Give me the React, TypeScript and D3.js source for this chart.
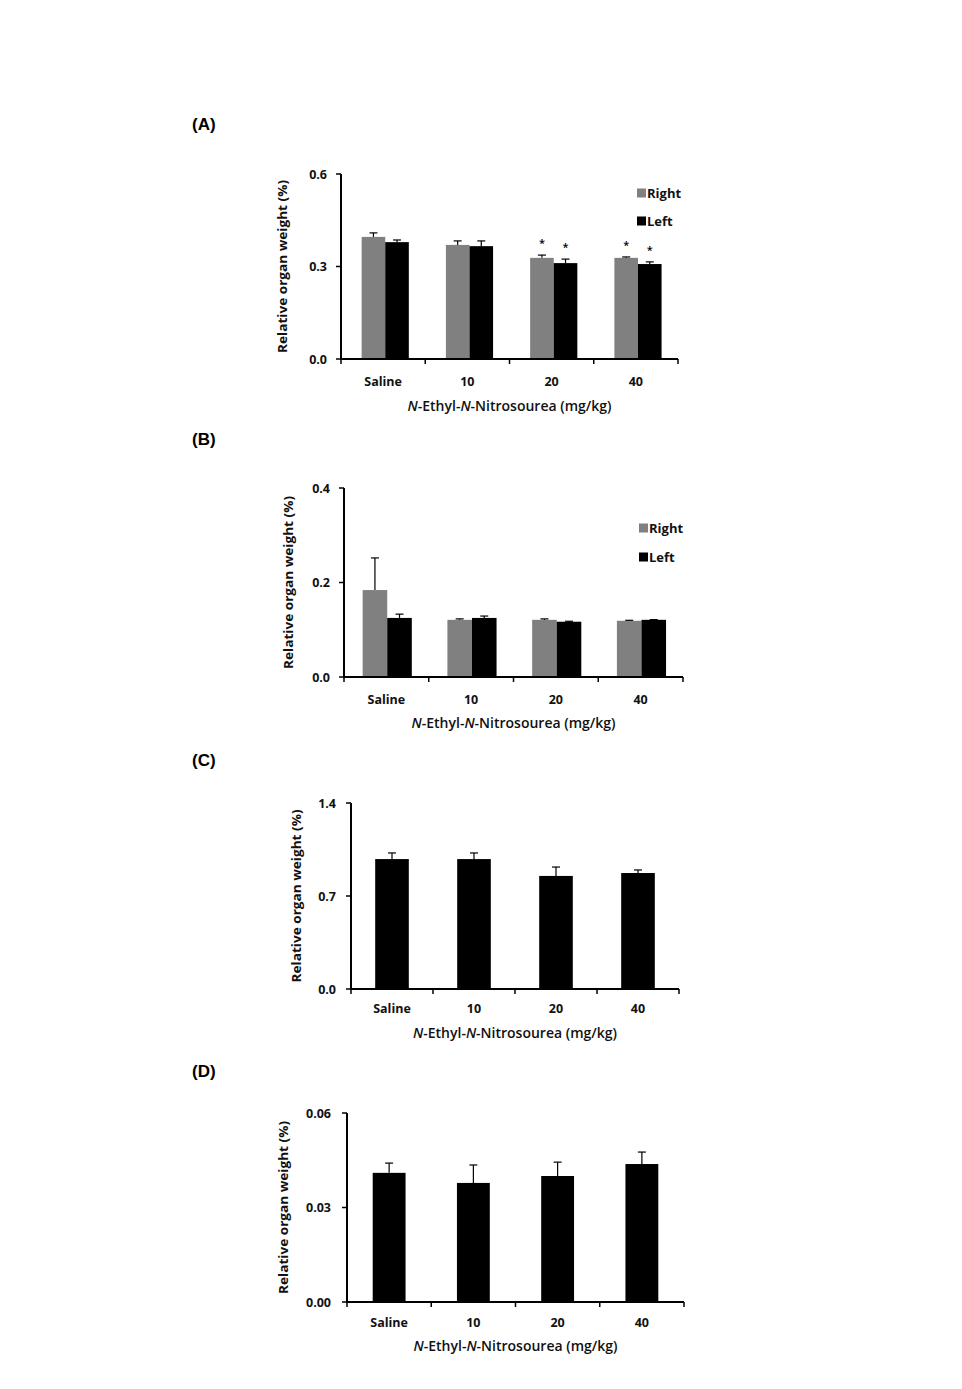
import React from "react";
import * as d3 from "d3";

const categories = ["Saline", "10", "20", "40"];

const aRight = [0.396, 0.37, 0.328, 0.328];
const aRightSD = [0.013, 0.013, 0.009, 0.003];
const aRightSig = [false, false, true, true];
const aLeft = [0.379, 0.366, 0.311, 0.308];
const aLeftSD = [0.007, 0.017, 0.013, 0.007];
const aLeftSig = [false, false, true, true];
const aTicks = [0, 0.3, 0.6];

const bRight = [0.184, 0.121, 0.121, 0.119];
const bRightSD = [0.068, 0.002, 0.002, 0.001];
const bLeft = [0.125, 0.125, 0.117, 0.121];
const bLeftSD = [0.008, 0.004, 0.001, 0.0005];
const bTicks = [0, 0.2, 0.4];

const cValues = [0.978, 0.978, 0.851, 0.873];
const cSD = [0.046, 0.046, 0.067, 0.023];
const cTicks = [0, 0.7, 1.4];

const dValues = [0.041, 0.0378, 0.04, 0.0438];
const dSD = [0.0031, 0.0057, 0.0044, 0.0038];
const dTicks = [0, 0.03, 0.06];

const seriesNames = ["Right", "Left"];
const seriesColors = ["#808080", "#000000"];

const FONT = "'Open Sans', 'Noto Sans', sans-serif";

type Series = { name: string; color: string; values: number[]; sd: number[]; sig?: boolean[] };

type PanelProps = {
  label: string;
  labelY: number;
  x0: number;
  x1: number;
  yTop: number;
  yBot: number;
  ticks: number[];
  decimals: number;
  tickLabelX: number;
  yLabelX: number;
  xLabelY: number;
  xTitleY: number;
  series: Series[];
  legend?: { x: number; y: number[] };
  groupInner: [number, number];
};

function Panel(p: PanelProps) {
  const x = d3.scaleBand<string>().domain(categories).range([p.x0, p.x1]).padding(0);
  const y = d3
    .scaleLinear()
    .domain([0, p.ticks[p.ticks.length - 1]])
    .range([p.yBot, p.yTop]);
  const bw = x.bandwidth();
  const inner = d3
    .scaleBand<string>()
    .domain(p.series.map((s) => s.name))
    .range([bw * p.groupInner[0], bw * p.groupInner[1]])
    .padding(0);
  const fmt = d3.format(`.${p.decimals}f`);
  const yMid = (p.yTop + p.yBot) / 2;
  const boundaries = categories.map((c) => (x(c) as number) + bw);
  return (
    <g>
      <text x={192} y={p.labelY} dominantBaseline="central" fontFamily="'Liberation Sans', Arial, sans-serif" fontWeight={700} fontSize={17} fill="#000">
        {p.label}
      </text>
      {p.series.map((s) =>
        categories.map((c, i) => {
          const bx = (x(c) as number) + (inner(s.name) as number);
          const w = inner.bandwidth();
          const cx = bx + w / 2;
          const top = y(s.values[i]);
          const errTop = y(s.values[i] + s.sd[i]);
          return (
            <g key={s.name + c}>
              <rect x={bx} y={top} width={w} height={p.yBot - top} fill={s.color} />
              <line x1={cx} x2={cx} y1={top} y2={errTop} stroke="#000" strokeWidth={1.2} />
              <line x1={cx - 4} x2={cx + 4} y1={errTop} y2={errTop} stroke="#000" strokeWidth={1.2} />
              {s.sig && s.sig[i] ? (
                <text x={cx} y={errTop - 8} textAnchor="middle" fontFamily={FONT} fontSize={11} fontWeight={600} fill="#000">
                  *
                </text>
              ) : null}
            </g>
          );
        })
      )}
      <line x1={p.x0} x2={p.x0} y1={p.yTop} y2={p.yBot + 1} stroke="#000" strokeWidth={2} />
      {p.ticks.map((t) => (
        <g key={t}>
          <line x1={p.x0 - 5} x2={p.x0} y1={y(t)} y2={y(t)} stroke="#000" strokeWidth={1.5} />
          <text x={p.tickLabelX} y={y(t)} textAnchor="end" dominantBaseline="central" fontFamily={FONT} fontWeight={700} fontSize={12.5} fill="#111">
            {fmt(t)}
          </text>
        </g>
      ))}
      <line x1={p.x0 - 1} x2={p.x1} y1={p.yBot} y2={p.yBot} stroke="#000" strokeWidth={2} />
      <line x1={p.x0} x2={p.x0} y1={p.yBot} y2={p.yBot + 5} stroke="#000" strokeWidth={1.5} />
      {boundaries.map((bx, i) => (
        <line key={i} x1={bx} x2={bx} y1={p.yBot} y2={p.yBot + 5} stroke="#000" strokeWidth={1.5} />
      ))}
      {categories.map((c) => (
        <text key={c} x={(x(c) as number) + bw / 2} y={p.xLabelY} textAnchor="middle" dominantBaseline="central" fontFamily={FONT} fontWeight={700} fontSize={12.5} fill="#111">
          {c}
        </text>
      ))}
      <text x={(p.x0 + p.x1) / 2} y={p.xTitleY} textAnchor="middle" dominantBaseline="central" fontFamily={FONT} fontWeight={600} fontSize={14} fill="#111">
        <tspan fontStyle="italic">N</tspan>
        <tspan>-Ethyl-</tspan>
        <tspan fontStyle="italic">N</tspan>
        <tspan>-Nitrosourea (mg/kg)</tspan>
      </text>
      <text
        transform={`translate(${p.yLabelX},${yMid}) rotate(-90)`}
        textAnchor="middle"
        dominantBaseline="central"
        fontFamily={FONT}
        fontWeight={700}
        fontSize={12}
        textLength={173}
        lengthAdjust="spacingAndGlyphs"
        fill="#111"
      >
        Relative organ weight (%)
      </text>
      {p.legend
        ? p.series.map((s, i) => (
            <g key={"lg" + s.name}>
              <rect x={p.legend!.x} y={p.legend!.y[i] - 4.5} width={9} height={9} fill={s.color} />
              <text x={p.legend!.x + 10} y={p.legend!.y[i]} dominantBaseline="central" fontFamily={FONT} fontWeight={700} fontSize={13} fill="#111">
                {s.name}
              </text>
            </g>
          ))
        : null}
    </g>
  );
}

export default function App() {
  return (
    <svg width={962} height={1389} style={{ position: "absolute", left: 0, top: 0, background: "#fff" }}>
      <rect width={962} height={1389} fill="#fff" />
      <Panel
        label="(A)"
        labelY={124}
        x0={341}
        x1={678}
        yTop={174}
        yBot={359}
        ticks={aTicks}
        decimals={1}
        tickLabelX={327}
        yLabelX={282}
        xLabelY={381}
        xTitleY={405}
        groupInner={[0.245, 0.805]}
        series={[
          { name: seriesNames[0], color: seriesColors[0], values: aRight, sd: aRightSD, sig: aRightSig },
          { name: seriesNames[1], color: seriesColors[1], values: aLeft, sd: aLeftSD, sig: aLeftSig },
        ]}
        legend={{ x: 637, y: [193, 221] }}
      />
      <Panel
        label="(B)"
        labelY={439}
        x0={344}
        x1={683}
        yTop={488}
        yBot={677}
        ticks={bTicks}
        decimals={1}
        tickLabelX={330}
        yLabelX={288}
        xLabelY={699}
        xTitleY={722}
        groupInner={[0.22, 0.8]}
        series={[
          { name: seriesNames[0], color: seriesColors[0], values: bRight, sd: bRightSD },
          { name: seriesNames[1], color: seriesColors[1], values: bLeft, sd: bLeftSD },
        ]}
        legend={{ x: 639, y: [528, 557] }}
      />
      <Panel
        label="(C)"
        labelY={760}
        x0={351}
        x1={679}
        yTop={803}
        yBot={989}
        ticks={cTicks}
        decimals={1}
        tickLabelX={336}
        yLabelX={296}
        xLabelY={1008}
        xTitleY={1032}
        groupInner={[0.295, 0.705]}
        series={[{ name: "Value", color: "#000000", values: cValues, sd: cSD }]}
      />
      <Panel
        label="(D)"
        labelY={1071}
        x0={347}
        x1={684}
        yTop={1113}
        yBot={1302}
        ticks={dTicks}
        decimals={2}
        tickLabelX={331}
        yLabelX={283}
        xLabelY={1322}
        xTitleY={1345}
        groupInner={[0.305, 0.695]}
        series={[{ name: "Value", color: "#000000", values: dValues, sd: dSD }]}
      />
    </svg>
  );
}
